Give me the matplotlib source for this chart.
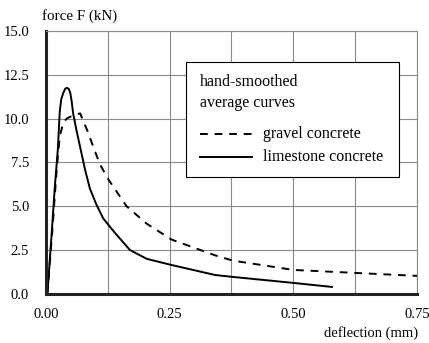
import matplotlib
matplotlib.use('Agg')
import matplotlib.pyplot as plt
from matplotlib.patches import Rectangle
from matplotlib.lines import Line2D

plt.rcParams['font.family'] = ['Liberation Serif', 'DejaVu Serif']

# hand-smoothed average curves, deflection (mm) vs force (kN)
lime_x = [0.003, 0.012, 0.018, 0.024, 0.028, 0.031, 0.035, 0.039, 0.042, 0.046,
          0.049, 0.052, 0.055, 0.062, 0.069, 0.079, 0.089, 0.102, 0.116, 0.139,
          0.170, 0.204, 0.254, 0.342, 0.378, 0.500, 0.578]
lime_y = [0.0, 3.6, 6.1, 8.2, 10.4, 11.1, 11.45, 11.7, 11.75, 11.7,
          11.5, 11.0, 10.3, 9.3, 8.4, 7.1, 6.0, 5.1, 4.3, 3.5,
          2.5, 2.0, 1.65, 1.08, 0.97, 0.63, 0.40]

gravel_x = [0.003, 0.013, 0.022, 0.028, 0.035, 0.042, 0.049, 0.060, 0.069, 0.075,
            0.084, 0.093, 0.109, 0.127, 0.163, 0.204, 0.254, 0.342, 0.378, 0.500,
            0.625, 0.750]
gravel_y = [0.0, 3.6, 7.2, 9.0, 9.75, 10.0, 10.1, 10.2, 10.3, 9.9,
            9.3, 8.6, 7.4, 6.5, 5.0, 4.0, 3.1, 2.2, 1.9, 1.37,
            1.2, 1.03]

x_ticks = [0.0, 0.25, 0.5, 0.75]
y_ticks = [0.0, 2.5, 5.0, 7.5, 10.0, 12.5, 15.0]

fig = plt.figure(figsize=(4.29, 3.43), dpi=100)
ax = fig.add_axes([0.107, 0.143, 0.865, 0.767])

ax.plot(gravel_x, gravel_y, color='black', lw=1.4, ls=(0, (4, 3.5)))
ax.plot(lime_x, lime_y, color='black', lw=1.4)

ax.set_xlim(0, 0.75)
ax.set_ylim(0, 15)
ax.set_xticks(x_ticks)
ax.set_xticklabels(['%.2f' % v for v in x_ticks])
ax.set_yticks(y_ticks)
ax.set_yticklabels(['%.1f' % v for v in y_ticks])
ax.set_xticks([0.125, 0.375, 0.625], minor=True)
ax.grid(True, which='both', color='#8a8a8a', lw=0.8)
ax.set_axisbelow(True)
ax.tick_params(which='both', length=0, labelsize=10.5)
ax.tick_params(axis='x', pad=10)
ax.tick_params(axis='y', pad=12)

for s in ('left', 'bottom'):
    ax.spines[s].set_linewidth(2.2)
    ax.spines[s].set_color('#222222')
for s in ('top', 'right'):
    ax.spines[s].set_linewidth(0.8)
    ax.spines[s].set_color('#8a8a8a')

fig.text(0.098, 0.953, 'force F (kN)', fontsize=10.8, ha='left', va='center')
fig.text(0.975, 0.028, 'deflection (mm)', fontsize=10.5, ha='right', va='center')

# legend box drawn in axes fraction
box = Rectangle((0.377, 0.445), 0.574, 0.437, transform=ax.transAxes,
                facecolor='white', edgecolor='black', lw=0.8, zorder=5)
ax.add_patch(box)
ax.text(0.415, 0.805, 'hand-smoothed', transform=ax.transAxes, fontsize=11.5,
        va='center', ha='left', zorder=6)
ax.text(0.415, 0.725, 'average curves', transform=ax.transAxes, fontsize=11.5,
        va='center', ha='left', zorder=6)
ax.add_line(Line2D([0.415, 0.555], [0.607, 0.607], transform=ax.transAxes,
                   color='black', lw=1.4, ls=(0, (4, 3.5)), zorder=6))
ax.add_line(Line2D([0.415, 0.555], [0.52, 0.52], transform=ax.transAxes,
                   color='black', lw=1.4, zorder=6))
ax.text(0.585, 0.607, 'gravel concrete', transform=ax.transAxes, fontsize=11.5,
        va='center', ha='left', zorder=6)
ax.text(0.585, 0.52, 'limestone concrete', transform=ax.transAxes, fontsize=11.5,
        va='center', ha='left', zorder=6)

fig.savefig('out.png', dpi=100, facecolor='white')
